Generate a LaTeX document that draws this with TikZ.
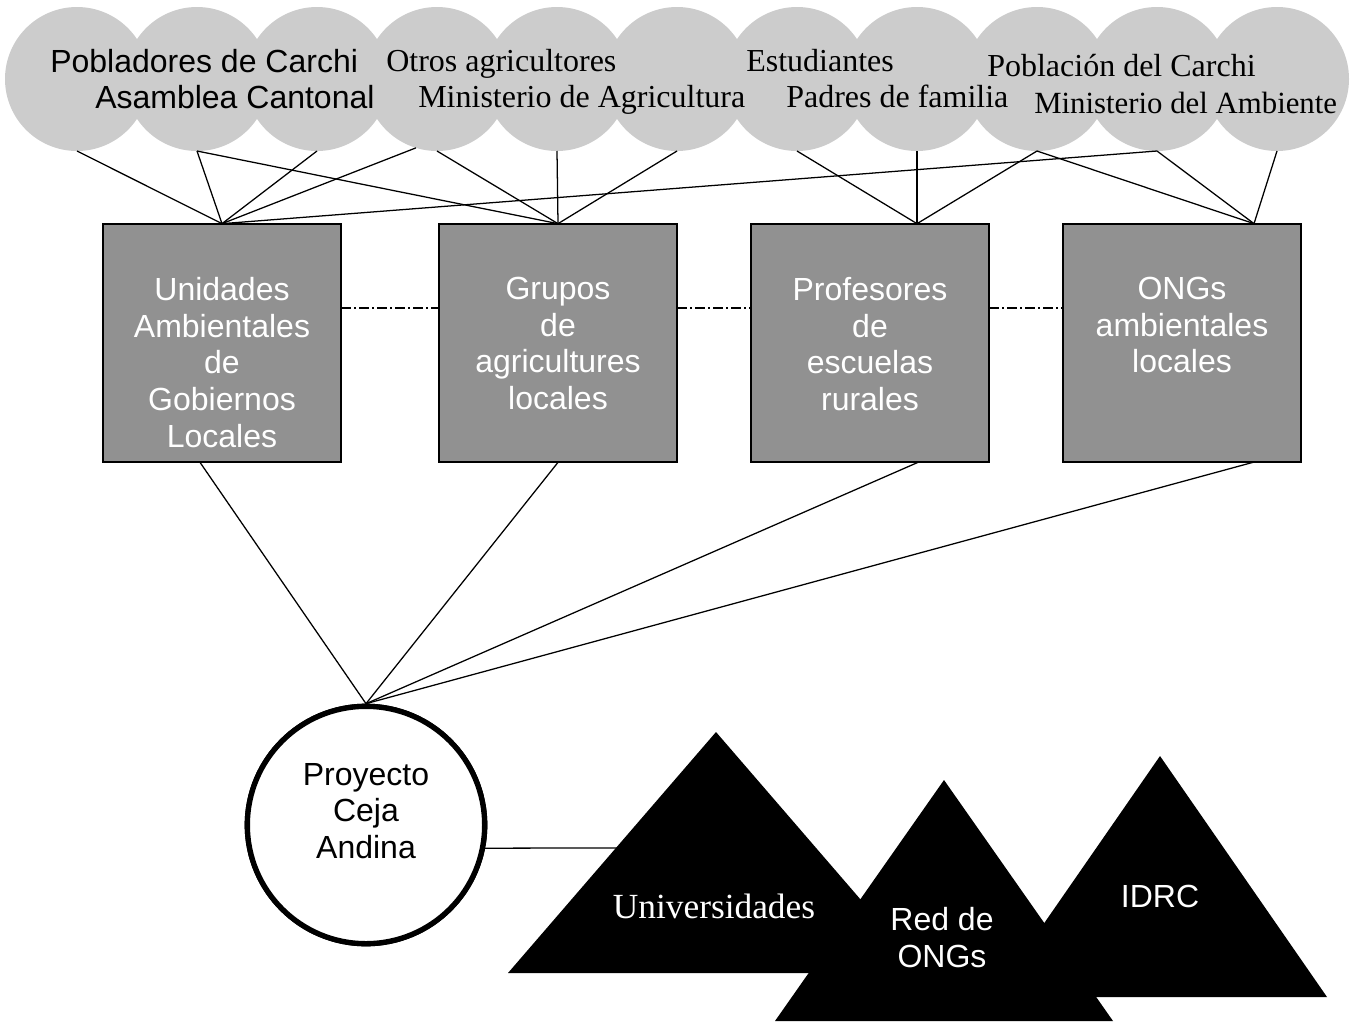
\documentclass[tikz,border=0pt]{standalone}
\usepackage{fontspec}
\setmainfont{Liberation Serif}
\newfontfamily\arialf{Liberation Sans}
\newfontfamily\timesf{Liberation Serif}
\usetikzlibrary{calc}
\definecolor{topgray}{RGB}{204,204,204}
\definecolor{boxgray}{RGB}{145,145,145}
\begin{document}
\begin{tikzpicture}[x=0.75pt,y=-0.75pt,
  topc/.style={circle, fill=topgray, minimum size=108pt, inner sep=0pt, outer sep=0pt},
  boxn/.style={rectangle, draw=black, line width=1.5pt, fill=boxgray, minimum width=179pt, minimum height=179pt, inner sep=0pt, outer sep=0pt},
  boxtxt/.style={anchor=north, align=center, text=white, font=\arialf\fontsize{24}{27.5}\selectfont, inner sep=0pt},
  conn/.style={draw=black, line width=0.95pt},
  linkdd/.style={draw=black, line width=0.95pt, dash pattern=on 7pt off 2.5pt on 1.5pt off 2.5pt},
  arialtxt/.style={font=\arialf\fontsize{24}{27.5}\selectfont, inner sep=0pt},
  timestxt/.style={font=\timesf\fontsize{24}{27.5}\selectfont, inner sep=0pt},
  projc/.style={circle, draw=black, line width=4pt, fill=white, minimum size=178pt, inner sep=0pt},
  tri/.style={fill=black}
]
\useasboundingbox (0,0) rectangle (1367,1021);

% top circles
\foreach \i in {1,...,11} {
  \node[topc] (c\i) at ({77+120*(\i-1)},79) {};
}

% boxes
\node[boxn] (b1) at (222,343) {};
\node[boxn] (b2) at (558,343) {};
\node[boxn] (b3) at (870,343) {};
\node[boxn] (b4) at (1182,343) {};

\coordinate (b3in) at ($(b3.north)+(47,0)$);
\coordinate (b4in) at ($(b4.north)+(72,0)$);
\coordinate (b1out) at ($(b1.south)+(-22,0)$);
\coordinate (b3out) at ($(b3.south)+(48,0)$);
\coordinate (b4out) at ($(b4.south)+(71,0)$);

% project circle
\node[projc] (p) at (366,825) {};

% connectors top
\draw[conn] (c1.south) -- (b1.north);
\draw[conn] (c2.south) -- (b1.north);
\draw[conn] (c3.south) -- (b1.north);
\draw[conn] (c4.253) -- (b1.north);
\draw[conn] (c10.south) -- (b1.north);
\draw[conn] (c2.south) -- (b2.north);
\draw[conn] (c4.south) -- (b2.north);
\draw[conn] (c5.south) -- (b2.north);
\draw[conn] (c6.south) -- (b2.north);
\draw[conn] (c7.south) -- (b3in);
\draw[conn] (c8.south) -- (b3in);
\draw[conn] (c9.south) -- (b3in);
\draw[conn] (c9.south) -- (b4in);
\draw[conn] (c10.south) -- (b4in);
\draw[conn] (c11.south) -- (b4in);

% dash-dot links between boxes
\draw[linkdd] ($(b1.east)+(0,-35)$) -- ($(b2.west)+(0,-35)$);
\draw[linkdd] ($(b2.east)+(0,-35)$) -- ($(b3.west)+(0,-35)$);
\draw[linkdd] ($(b3.east)+(0,-35)$) -- ($(b4.west)+(0,-35)$);

% connectors to project
\draw[conn] (b1out) -- (p.north);
\draw[conn] (b2.south) -- (p.north);
\draw[conn] (b3out) -- (p.north);
\draw[conn] (b4out) -- (p.north);

% redraw project circle on top of line ends
\node[projc] (p2) at (366,825) {};

% connector project -> Universidades
\coordinate (uni) at (640,848);
\draw[conn] (p2.-11) -- (uni);

% triangles
\fill[tri] (716,732) -- (508,973) -- (924,973) -- cycle;
\fill[tri] (1160,756) -- (993,997) -- (1327,997) -- cycle;
\fill[tri] (944,780) -- (775,1021) -- (1113,1021) -- cycle;

% top texts
\node[arialtxt, anchor=base west] (t1a) at (50,72) {Pobladores de Carchi};
\node[arialtxt, anchor=base west] (t1b) at (95,108) {Asamblea Cantonal};
\node[timestxt, anchor=base west] (t2a) at (386,71) {Otros agricultores};
\node[timestxt, anchor=base west] (t2b) at (418,107) {Ministerio de Agricultura};
\node[timestxt, anchor=base west] (t3a) at (746,71) {Estudiantes};
\node[timestxt, anchor=base west] (t3b) at (786,107) {Padres de familia};
\node[timestxt, anchor=base west] (t4a) at (987,76) {Población del Carchi};
\node[timestxt, anchor=base west, font=\timesf\fontsize{23.1}{27}\selectfont] (t4b) at (1034,113) {Ministerio del Ambiente};

% box texts
\node[boxtxt] (bt1) at (222,277) {Unidades\\Ambientales\\de\\Gobiernos\\Locales};
\node[boxtxt] (bt2) at (558,277) {Grupos\\de\\agricultures\\locales};
\node[boxtxt] (bt3) at (870,277) {Profesores\\de\\escuelas\\rurales};
\node[boxtxt] (bt4) at (1182,277) {ONGs\\ambientales\\locales};

% project text
\node[arialtxt, anchor=north, align=center] (pt) at (366,763) {Proyecto\\Ceja\\Andina};

% triangle texts
\node[inner sep=0pt, anchor=base, text=white, font=\timesf\fontsize{26.5}{30}\selectfont] (ut) at (714,918) {Universidades};
\node[arialtxt, anchor=north, align=center, text=white] (rt) at (942,907) {Red de\\ONGs};
\node[arialtxt, anchor=base, text=white] (it) at (1160,907) {IDRC};
\end{tikzpicture}
\end{document}
